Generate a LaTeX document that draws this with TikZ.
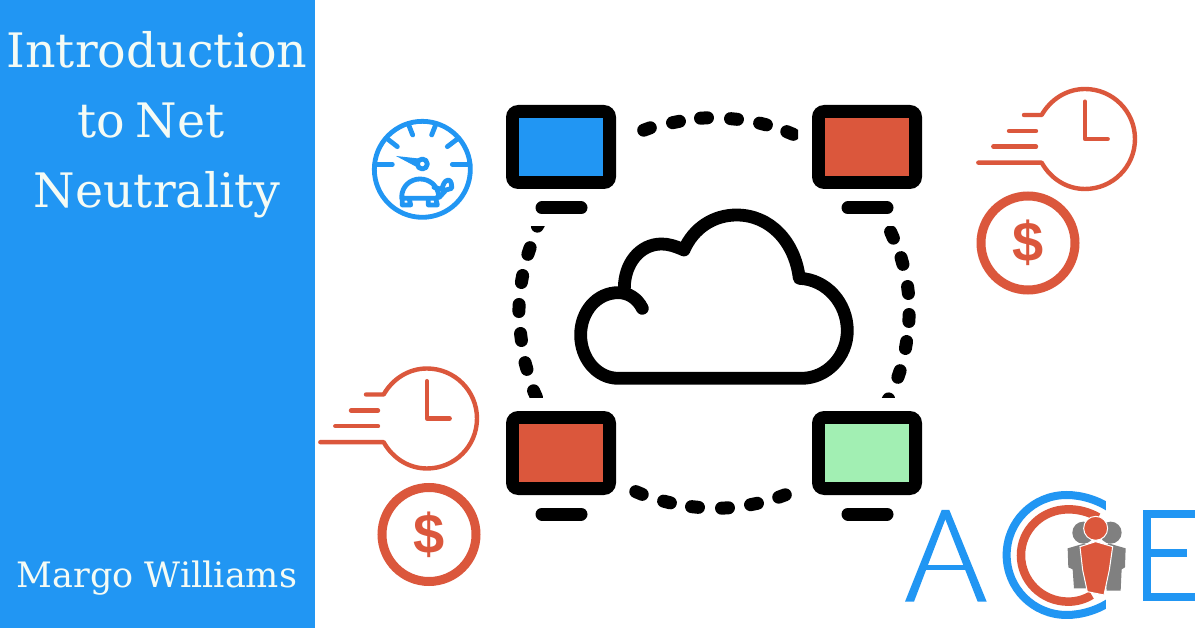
\documentclass[tikz,border=0pt]{standalone}
\usepackage{fontspec}
\setmainfont{DejaVu Serif}
\newfontfamily\dollarfont{Liberation Sans}
\definecolor{aceblue}{HTML}{2196F3}
\definecolor{acered}{HTML}{DB573C}
\definecolor{acegreen}{HTML}{A2EFB3}
\definecolor{acegray}{HTML}{808080}
\definecolor{titlewhite}{HTML}{F4FBF5}
\tikzset{
  monitorbody/.style={fill=black,rounded corners=12pt,minimum width=110pt,minimum height=84pt,inner sep=0pt,outer sep=0pt},
  screen/.style={minimum width=84.5pt,minimum height=58.5pt,inner sep=0pt,outer sep=0pt},
  standbar/.style={line width=13pt,line cap=round,black},
  ringdash/.style={line width=13pt,black,line cap=round},
  title/.style={text=titlewhite,font=\fontsize{47.5}{48}\selectfont,anchor=base,inner sep=0pt},
  author/.style={text=titlewhite,font=\fontsize{35}{35}\selectfont,anchor=base,inner sep=0pt},
  zoomed/.style={x=0.3333pt,y=-0.3333pt},
  redline/.style={draw=acered,line width=4.4pt,line cap=round,line join=round},
  blueline/.style={draw=aceblue,line width=4.8pt,line cap=round,line join=round},
  dollar/.style={text=acered,font=\dollarfont\bfseries\fontsize{56}{56}\selectfont,inner sep=0pt},
}
\newcommand{\clockicon}[2]{%
  \begin{scope}[zoomed,shift={(#1pt,-#2pt)}]
    \draw[redline] (192,105) -- (245,105) .. controls (272,58) and (320,27) .. (375,27)
      .. controls (458,27) and (525,94) .. (525,177)
      .. controls (525,260) and (458,327) .. (375,327)
      .. controls (320,327) and (272,296) .. (245,248) -- (55,248);
    \draw[redline] (147,153) -- (228,153);
    \draw[redline] (100,200) -- (228,200);
    \draw[redline] (375,65) -- (375,177) -- (443,177);
  \end{scope}}
\newcommand{\ringpiece}[2]{%
  \draw[ringdash] ({#1+3.5*(#2-313)/195},{#2-3.5*(#1-715)/195}) -- ({#1-3.5*(#2-313)/195},{#2+3.5*(#1-715)/195});}
\begin{document}
\begin{tikzpicture}[x=1pt,y=-1pt]
\useasboundingbox (0,0) rectangle (1200,628);
\fill[white] (0,0) rectangle (1200,628);
\fill[aceblue] (0,0) rectangle (315,628);
\node[title] (t1) at (157,68) {Introduction};
\node[title] (t2) at (151,138) {to\hspace{-4pt} Net};
\node[title] (t3) at (157,208) {Neutrality};
\node[author] (t4) at (157,587) {Margo Williams};
% dashed ring
\begin{scope}
\clip (0,0) rectangle (798,628);
\foreach \cx/\cy in {647/129,676/122,704/118,734/119,763/124,790/133}{\ringpiece{\cx}{\cy}}
\end{scope}
\foreach \cx/\cy in {639/493,667/502,695/507,725/508,754/504,782/496}{\ringpiece{\cx}{\cy}}
\begin{scope}
\clip (0,226.5) rectangle (1200,397.5);
\foreach \cx/\cy in {539/223,529/251,522/279,519/308,521/337,526/366,535/394,
  892/235,902/261,908/290,909/318,906/345,899/374,887/402}{\ringpiece{\cx}{\cy}}
\end{scope}
% monitors
\node[monitorbody] (mtl) at (561,147) {};
\node[monitorbody] (mtr) at (867,147) {};
\node[monitorbody] (mbl) at (561,453) {};
\node[monitorbody] (mbr) at (867,453) {};
\node[screen,fill=aceblue] (stl) at (mtl) {};
\node[screen,fill=acered] (str) at (mtr) {};
\node[screen,fill=acered] (sbl) at (mbl) {};
\node[screen,fill=acegreen] (sbr) at (mbr) {};
\draw[standbar] (542,208) -- (581,208);
\draw[standbar] (848,208) -- (887,208);
\draw[standbar] (542,514) -- (581,514);
\draw[standbar] (848,514) -- (887,514);
% cloud
\begin{scope}[zoomed,shift={(560pt,-200pt)}]
\draw[line width=12.8pt,line cap=round,line join=round,black]
 (247,325) .. controls (232,295) and (205,278) .. (175,278)
 .. controls (110,278) and (62,335) .. (62,405)
 .. controls (62,475) and (110,535) .. (175,535)
 -- (725,535)
 .. controls (800,535) and (862,470) .. (862,392)
 .. controls (862,310) and (800,238) .. (718,235)
 .. controls (705,125) and (630,45) .. (530,45)
 .. controls (460,45) and (400,85) .. (372,150)
 .. controls (345,138) and (325,132) .. (305,132)
 .. controls (240,132) and (193,190) .. (193,265);
\end{scope}
% speedometer
\begin{scope}[zoomed,shift={(360pt,-110pt)}]
\draw[blueline] (187,178) circle[radius=144];
\draw[blueline] (45,163) -- (97,163);
\draw[blueline] (277,163) -- (330,163);
\draw[blueline] (80,85) -- (112,110);
\draw[blueline] (262,110) -- (295,85);
\draw[blueline] (145,42) -- (158,75);
\draw[blueline] (215,75) -- (228,42);
\fill[aceblue] (108,138) -- (180,146) -- (172,172) -- cycle;
\draw[blueline,fill=white] (187,162) circle[radius=15];
\draw[blueline] (125,262) .. controls (125,230) and (150,207) .. (180,207)
  .. controls (210,207) and (232,228) .. (236,255) .. controls (236,262) and (230,265) .. (225,265) -- (125,265) -- cycle;
\draw[blueline] (127,268) -- (127,285) -- (152,285) -- (148,268);
\draw[blueline] (205,268) -- (205,285) -- (232,285) -- (228,268);
\draw[blueline] (222,232) -- (245,238) .. controls (250,225) and (252,212) .. (265,210)
  .. controls (275,212) and (275,225) .. (275,235) -- (258,240) -- (238,262);
\end{scope}
% clocks and coins
\clockicon{960}{80}
\clockicon{302}{359.5}
\draw[acered,line width=9pt] (1028,243) circle[radius=47];
\node[dollar] (d1) at (1028,243) {\$};
\draw[acered,line width=9pt] (429,534.5) circle[radius=47];
\node[dollar] (d2) at (429,534.5) {\$};
% logo
\begin{scope}[zoomed,shift={(890pt,-480pt)}]
\fill[aceblue] (45,365) -- (155,90) -- (178,90) -- (290,365) -- (263,365) -- (166,118) -- (72,365) -- cycle;
\draw[aceblue,line width=5.5pt] (105,262) -- (228,262);
\draw[aceblue,line width=8pt] (915,102) -- (770,102) -- (770,352) -- (915,352);
\draw[aceblue,line width=8pt] (770,220) -- (890,220);
\begin{scope}
\clip (300,0) rectangle (648,440);
\draw[aceblue,line width=8pt] (665,88) .. controls (625,60) and (575,45) .. (530,45)
  .. controls (430,45) and (350,125) .. (350,225)
  .. controls (350,325) and (430,405) .. (530,405)
  .. controls (575,405) and (625,390) .. (665,362);
\end{scope}
\draw[acered,line width=8.5pt] (625,112) .. controls (595,95) and (565,88) .. (535,88)
  .. controls (455,88) and (393,150) .. (393,226)
  .. controls (393,302) and (455,365) .. (535,365)
  .. controls (560,365) and (585,358) .. (605,345);
\fill[acegray] (580,158) circle[radius=33];
\fill[acegray] (662,158) circle[radius=33];
\fill[acegray] (533,205) -- (585,190) -- (600,215) -- (590,325) -- (552,325) -- (548,268) -- (535,262) -- cycle;
\fill[acegray] (707,205) -- (655,190) -- (640,215) -- (650,332) -- (692,332) -- (695,268) -- (705,262) -- cycle;
\fill[acered,draw=white,line width=1pt] (570,200) -- (617,185) -- (668,200) -- (658,270) -- (642,345) -- (592,335) -- (578,270) -- cycle;
\fill[acered,draw=white,line width=1pt] (617,145) circle[radius=36];
\end{scope}
\end{tikzpicture}
\end{document}
